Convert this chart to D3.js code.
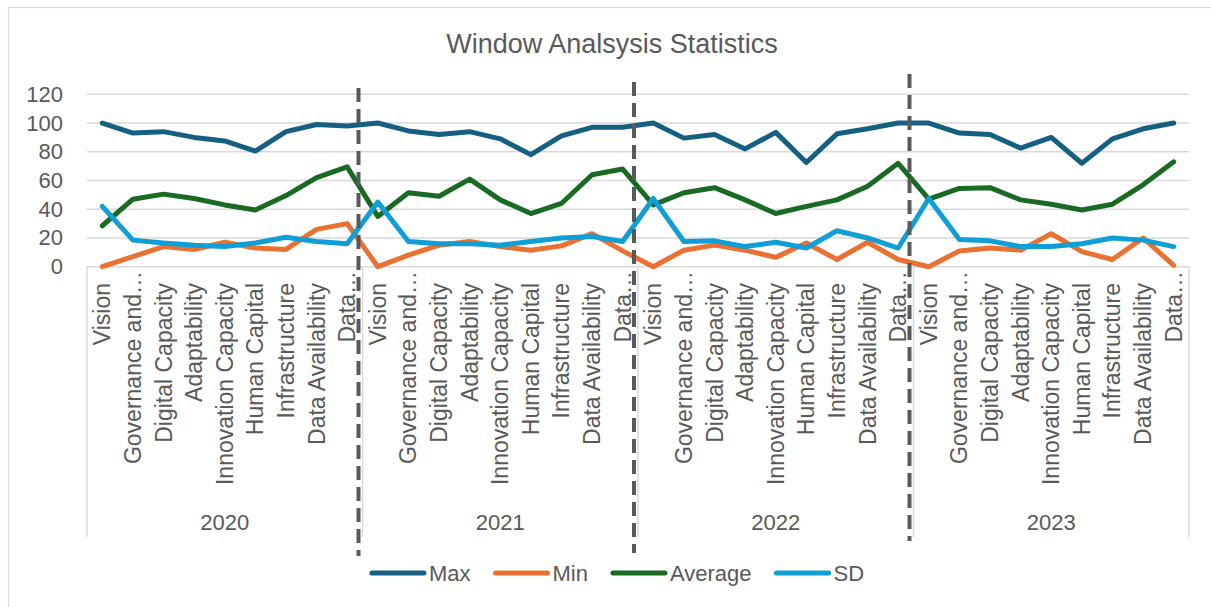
<!DOCTYPE html>
<html>
<head>
<meta charset="utf-8">
<script src="https://cdn.jsdelivr.net/npm/d3@7"></script>
<style>
  html, body { margin: 0; padding: 0; background: #fff; }
  svg { display: block; font-family: "Liberation Sans", Arial, sans-serif; }
</style>
</head>
<body>
<svg id="chart" width="1211" height="607"></svg>
<script>
// Window analysis statistics per year and dimension
const years = ["2020", "2021", "2022", "2023"];
const dimensions = ["Vision", "Governance and…", "Digital Capacity", "Adaptability",
  "Innovation Capacity", "Human Capital", "Infrastructure", "Data Availability", "Data…"];

const maxValues = [
  100, 93, 94, 90, 87.5, 80.5, 94, 99, 98,
  100, 94.5, 92, 94, 89, 78, 91, 97, 97,
  100, 89.5, 92, 82, 93.5, 72.5, 92.5, 96, 100,
  100, 93, 92, 82.5, 90, 72, 89, 96, 100
];
const minValues = [
  0, 7, 14, 12, 17, 13, 12, 26, 30,
  0, 8, 15, 17.5, 14, 11.5, 14.5, 23, 11,
  0, 11.5, 15, 11.5, 6.5, 16.5, 5, 17, 5,
  0, 11, 13, 11.5, 23, 10.5, 5, 20, 1
];
const averageValues = [
  28.5, 47, 50.5, 47.5, 43, 39.5, 49.5, 62, 69.5,
  35, 51.5, 49, 61, 46.5, 37, 44, 64, 68,
  43, 51.5, 55, 46.5, 37, 42, 46.5, 56, 72,
  47, 54.5, 55, 46.5, 43.5, 39.5, 43.5, 57, 73
];
const sdValues = [
  42, 18.5, 16.5, 15, 14, 16.5, 20.5, 17.5, 16,
  45, 17.5, 16, 16, 15, 17.5, 20, 21, 17.5,
  47.5, 17.5, 18, 14, 17, 13, 25, 20, 13,
  47.5, 19, 18, 14, 14, 16, 20, 18.5, 14
];
const yTicks = [0, 20, 40, 60, 80, 100, 120];

const seriesNames = ["Max", "Min", "Average", "SD"];
const seriesColors = ["#156082", "#E97132", "#196B24", "#0F9ED5"];
const seriesValues = [maxValues, minValues, averageValues, sdValues];

const textColor = "#595959";
const gridColor = "#d9d9d9";

const svg = d3.select("#chart");

// outer frame
svg.append("rect")
  .attr("x", 8.5).attr("y", 7.5)
  .attr("width", 1400).attr("height", 1000)
  .attr("fill", "none").attr("stroke", gridColor).attr("stroke-width", 1.2);

const plot = { left: 87, right: 1189, top: 94.3, bottom: 266.7 };

const keys = [];
years.forEach(y => dimensions.forEach(d => keys.push(y + "|" + d)));

const x = d3.scaleBand().domain(keys).range([plot.left, plot.right]).padding(0);
const cx = k => x(k) + x.bandwidth() / 2;
const y = d3.scaleLinear().domain([0, 120]).range([plot.bottom, plot.top]);

// title
svg.append("text")
  .attr("x", 612).attr("y", 53)
  .attr("text-anchor", "middle")
  .attr("fill", textColor)
  .attr("font-size", 27)
  .text("Window Analsysis Statistics");

// horizontal gridlines
svg.append("g").selectAll("line").data(yTicks).join("line")
  .attr("x1", plot.left).attr("x2", plot.right)
  .attr("y1", d => y(d)).attr("y2", d => y(d))
  .attr("stroke", gridColor).attr("stroke-width", 1.5);

// y axis labels
svg.append("g").selectAll("text").data(yTicks).join("text")
  .attr("x", 63).attr("y", d => y(d))
  .attr("text-anchor", "end")
  .attr("dominant-baseline", "central")
  .attr("fill", textColor)
  .attr("font-size", 22)
  .text(d => d);

// group separators of the category axis
const bounds = years.map(yr => x(yr + "|" + dimensions[0])).concat([plot.right]);
svg.append("g").selectAll("line").data(bounds).join("line")
  .attr("x1", d => d).attr("x2", d => d)
  .attr("y1", plot.bottom).attr("y2", 537)
  .attr("stroke", gridColor).attr("stroke-width", 1.5);

// category labels, rotated
svg.append("g").selectAll("text").data(keys).join("text")
  .attr("transform", k => {
    const label = k.split("|")[1];
    const top = label.endsWith("…") ? 271 : 283;
    return `translate(${cx(k)},${top}) rotate(-90)`;
  })
  .attr("text-anchor", "end")
  .attr("dominant-baseline", "central")
  .attr("fill", textColor)
  .attr("font-size", 23)
  .text(k => k.split("|")[1]);

// year labels
svg.append("g").selectAll("text").data(years).join("text")
  .attr("x", yr => (x(yr + "|" + dimensions[0]) + x(yr + "|" + dimensions[dimensions.length - 1]) + x.bandwidth()) / 2)
  .attr("y", 522)
  .attr("text-anchor", "middle")
  .attr("dominant-baseline", "central")
  .attr("fill", textColor)
  .attr("font-size", 22)
  .text(yr => yr);

// series lines
const line = d3.line().x((d, i) => cx(keys[i])).y(d => y(d));
seriesValues.forEach((vals, s) => {
  svg.append("path")
    .datum(vals)
    .attr("d", line)
    .attr("fill", "none")
    .attr("stroke", seriesColors[s])
    .attr("stroke-width", 5)
    .attr("stroke-linejoin", "round")
    .attr("stroke-linecap", "round");
});

// dashed dividers between years
const dividerTops = [88, 82, 74];
const dividerBottoms = [556, 553, 541];
years.slice(1).forEach((yr, i) => {
  const xd = x(yr + "|" + dimensions[0]) - 4;
  svg.append("line")
    .attr("x1", xd).attr("x2", xd)
    .attr("y1", dividerTops[i]).attr("y2", dividerBottoms[i])
    .attr("stroke", "#595959")
    .attr("stroke-width", 4)
    .attr("stroke-dasharray", "14 7");
});

// legend
const legend = svg.append("g");
let lx = 0;
seriesNames.forEach((name, i) => {
  const g = legend.append("g").attr("transform", `translate(${lx},0)`);
  g.append("line")
    .attr("x1", 2).attr("x2", 54).attr("y1", 0).attr("y2", 0)
    .attr("stroke", seriesColors[i]).attr("stroke-width", 5)
    .attr("stroke-linecap", "round");
  const t = g.append("text")
    .attr("x", 59).attr("y", 0)
    .attr("dominant-baseline", "central")
    .attr("fill", textColor)
    .attr("font-size", 22)
    .text(name);
  lx += 59 + t.node().getComputedTextLength() + 23;
});
const legendWidth = lx - 23;
legend.attr("transform", `translate(${617 - legendWidth / 2},573)`);
</script>
</body>
</html>
